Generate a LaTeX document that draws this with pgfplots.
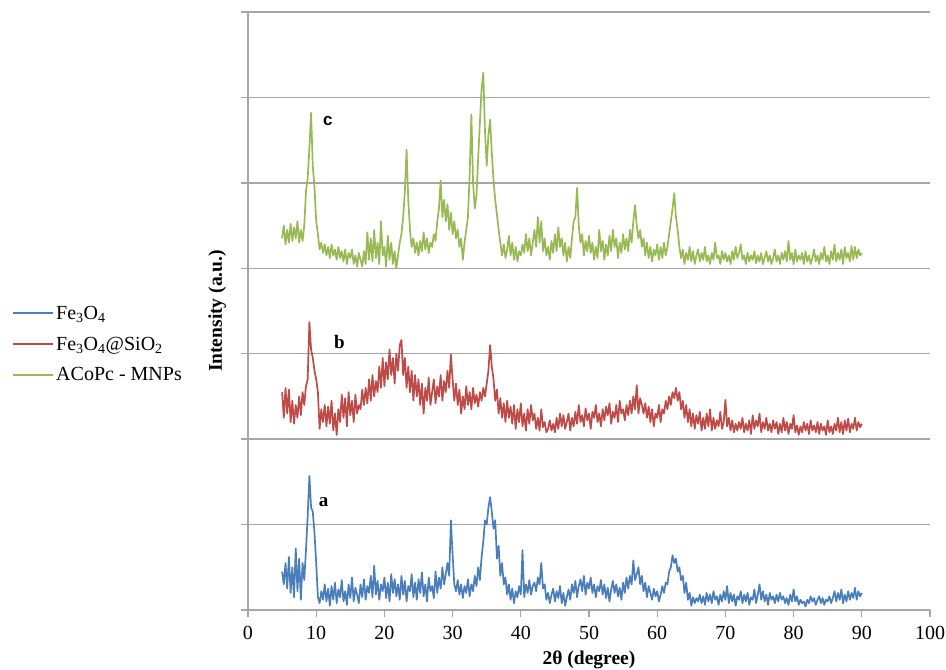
\documentclass[border=0pt]{standalone}
\usepackage{fontspec}
\setmainfont{Liberation Serif}
\newfontfamily\sansf{Liberation Sans}
\usepackage{pgfplots}
\usepackage{pgfplotstable}
\pgfplotsset{compat=1.18}
\definecolor{cblue}{HTML}{4A7EBB}
\definecolor{cred}{HTML}{BE4B48}
\definecolor{cgreen}{HTML}{98B954}
\definecolor{cgrid}{HTML}{A6A6A6}

% columns: 2theta, a (Fe3O4), b (Fe3O4@SiO2), c (ACoPc-MNPs) -- curves offset by 2 units
\pgfplotstableread{
x a b c
5.00 0.45 2.55 4.35
5.25 0.30 2.25 4.50
5.50 0.55 2.60 4.28
5.75 0.25 2.30 4.45
6.00 0.62 2.58 4.30
6.25 0.20 2.20 4.52
6.50 0.50 2.45 4.32
6.75 0.15 2.18 4.48
7.00 0.72 2.40 4.35
7.25 0.22 2.25 4.55
7.50 0.60 2.50 4.30
7.75 0.12 2.28 4.45
8.00 0.55 2.55 4.32
8.25 0.35 2.40 4.50
8.50 0.70 2.62 4.90
8.75 1.10 2.70 5.05
9.00 1.57 3.37 5.40
9.25 1.20 3.05 5.82
9.50 1.15 2.95 5.20
9.75 0.90 2.80 4.95
10.00 0.55 2.70 4.55
10.25 0.15 2.55 4.40
10.50 0.08 2.12 4.22
10.75 0.22 2.35 4.30
11.00 0.12 2.20 4.18
11.25 0.30 2.40 4.28
11.50 0.10 2.15 4.15
11.75 0.25 2.38 4.25
12.00 0.05 2.18 4.12
12.25 0.28 2.45 4.28
12.50 0.12 2.10 4.15
12.75 0.32 2.30 4.22
13.00 0.08 2.05 4.10
13.25 0.24 2.35 4.25
13.50 0.15 2.20 4.12
13.75 0.35 2.52 4.20
14.00 0.10 2.25 4.08
14.25 0.22 2.48 4.22
14.50 0.06 2.15 4.05
14.75 0.30 2.55 4.18
15.00 0.14 2.28 4.12
15.25 0.38 2.45 4.22
15.50 0.10 2.20 4.05
15.75 0.26 2.52 4.15
16.00 0.18 2.30 4.02
16.25 0.08 2.40 4.18
16.50 0.30 2.35 4.10
16.75 0.15 2.58 4.02
17.00 0.36 2.40 4.20
17.25 0.12 2.60 4.05
17.50 0.28 2.42 4.42
17.75 0.20 2.70 4.10
18.00 0.40 2.45 4.35
18.25 0.15 2.75 4.08
18.50 0.52 2.50 4.45
18.75 0.18 2.68 4.12
19.00 0.34 2.55 4.30
19.25 0.12 2.85 4.05
19.50 0.30 2.60 4.55
19.75 0.22 2.95 4.15
20.00 0.38 2.62 4.25
20.25 0.14 2.90 4.02
20.50 0.32 2.70 4.38
20.75 0.10 3.05 4.10
21.00 0.42 2.75 4.30
21.25 0.20 2.95 4.05
21.50 0.36 2.65 4.20
21.75 0.16 3.00 4.00
22.00 0.30 2.80 4.15
22.25 0.12 3.10 4.30
22.50 0.40 3.16 4.40
22.75 0.18 2.75 4.60
23.00 0.34 2.95 4.90
23.25 0.10 2.60 5.39
23.50 0.28 2.85 4.80
23.75 0.22 2.55 4.45
24.00 0.42 2.80 4.25
24.25 0.15 2.45 4.35
24.50 0.32 2.75 4.18
24.75 0.12 2.50 4.30
25.00 0.36 2.70 4.15
25.25 0.20 2.40 4.32
25.50 0.44 2.65 4.20
25.75 0.16 2.30 4.42
26.00 0.30 2.60 4.22
26.25 0.10 2.45 4.35
26.50 0.38 2.72 4.18
26.75 0.22 2.40 4.30
27.00 0.28 2.55 4.25
27.25 0.14 2.70 4.40
27.50 0.45 2.42 4.32
27.75 0.20 2.62 4.55
28.00 0.38 2.50 4.70
28.25 0.25 2.75 5.03
28.50 0.50 2.45 4.60
28.75 0.30 2.68 4.80
29.00 0.42 2.55 4.55
29.25 0.55 2.80 4.75
29.50 0.40 2.60 4.45
29.75 1.05 2.99 4.65
30.00 0.65 2.70 4.40
30.25 0.30 2.45 4.55
30.50 0.22 2.65 4.35
30.75 0.35 2.40 4.45
31.00 0.18 2.58 4.25
31.25 0.30 2.30 4.35
31.50 0.14 2.50 4.10
31.75 0.28 2.35 4.30
32.00 0.20 2.62 4.45
32.25 0.36 2.40 4.60
32.50 0.16 2.55 5.10
32.75 0.30 2.35 5.80
33.00 0.22 2.60 5.00
33.25 0.40 2.42 4.70
33.50 0.28 2.52 4.85
33.75 0.50 2.38 5.30
34.00 0.35 2.55 5.70
34.25 0.62 2.45 6.10
34.50 0.80 2.60 6.29
34.75 1.05 2.50 5.60
35.00 1.00 2.65 5.20
35.25 1.20 2.80 5.56
35.50 1.32 3.10 5.74
35.75 1.15 2.85 5.35
36.00 0.95 2.70 5.03
36.25 1.05 2.45 4.80
36.50 0.60 2.58 4.63
36.75 0.75 2.30 4.45
37.00 0.40 2.48 4.30
37.25 0.55 2.25 4.15
37.50 0.30 2.42 4.28
37.75 0.38 2.20 4.12
38.00 0.18 2.45 4.22
38.25 0.30 2.25 4.38
38.50 0.12 2.38 4.15
38.75 0.25 2.18 4.30
39.00 0.08 2.40 4.10
39.25 0.22 2.12 4.25
39.50 0.15 2.35 4.08
39.75 0.28 2.20 4.20
40.00 0.18 2.42 4.15
40.25 0.70 2.15 4.28
40.50 0.15 2.30 4.18
40.75 0.30 2.10 4.40
41.00 0.20 2.35 4.20
41.25 0.35 2.18 4.35
41.50 0.18 2.40 4.15
41.75 0.28 2.22 4.30
42.00 0.32 2.30 4.45
42.25 0.22 2.12 4.25
42.50 0.38 2.25 4.60
42.75 0.30 2.10 4.30
43.00 0.55 2.35 4.55
43.25 0.25 2.14 4.20
43.50 0.30 2.20 4.35
43.75 0.12 2.08 4.15
44.00 0.20 2.12 4.25
44.25 0.08 2.22 4.10
44.50 0.18 2.10 4.32
44.75 0.25 2.18 4.18
45.00 0.10 2.08 4.40
45.25 0.22 2.25 4.20
45.50 0.14 2.12 4.48
45.75 0.28 2.30 4.25
46.00 0.08 2.15 4.35
46.25 0.20 2.28 4.15
46.50 0.05 2.12 4.30
46.75 0.15 2.20 4.08
47.00 0.24 2.30 4.25
47.25 0.12 2.10 4.12
47.50 0.30 2.25 4.35
47.75 0.20 2.15 4.55
48.00 0.34 2.32 4.60
48.25 0.15 2.18 4.94
48.50 0.28 2.40 4.50
48.75 0.36 2.20 4.30
49.00 0.22 2.28 4.40
49.25 0.40 2.15 4.15
49.50 0.18 2.36 4.32
49.75 0.32 2.22 4.20
50.00 0.25 2.30 4.38
50.25 0.38 2.12 4.18
50.50 0.20 2.32 4.30
50.75 0.30 2.25 4.10
51.00 0.15 2.40 4.25
51.25 0.28 2.20 4.12
51.50 0.22 2.30 4.45
51.75 0.35 2.15 4.20
52.00 0.18 2.35 4.32
52.25 0.30 2.22 4.10
52.50 0.14 2.38 4.28
52.75 0.26 2.28 4.15
53.00 0.10 2.42 4.38
53.25 0.24 2.18 4.20
53.50 0.34 2.32 4.45
53.75 0.20 2.25 4.25
54.00 0.30 2.40 4.35
54.25 0.16 2.20 4.12
54.50 0.26 2.45 4.30
54.75 0.12 2.30 4.18
55.00 0.32 2.35 4.40
55.25 0.20 2.22 4.22
55.50 0.38 2.40 4.35
55.75 0.25 2.28 4.20
56.00 0.40 2.45 4.45
56.25 0.30 2.30 4.30
56.50 0.58 2.50 4.55
56.75 0.35 2.35 4.74
57.00 0.42 2.63 4.50
57.25 0.50 2.30 4.35
57.50 0.30 2.48 4.45
57.75 0.40 2.40 4.25
58.00 0.22 2.30 4.35
58.25 0.32 2.42 4.15
58.50 0.15 2.25 4.30
58.75 0.28 2.38 4.12
59.00 0.20 2.20 4.25
59.25 0.12 2.35 4.08
59.50 0.25 2.15 4.22
59.75 0.16 2.30 4.15
60.00 0.22 2.25 4.28
60.25 0.10 2.40 4.10
60.50 0.18 2.20 4.25
60.75 0.28 2.35 4.12
61.00 0.20 2.30 4.30
61.25 0.32 2.45 4.15
61.50 0.30 2.35 4.25
61.75 0.45 2.50 4.40
62.00 0.50 2.40 4.55
62.25 0.64 2.55 4.70
62.50 0.55 2.48 4.88
62.75 0.60 2.60 4.60
63.00 0.45 2.45 4.45
63.25 0.50 2.55 4.25
63.50 0.35 2.35 4.12
63.75 0.40 2.45 4.22
64.00 0.20 2.25 4.05
64.25 0.32 2.40 4.18
64.50 0.12 2.20 4.10
64.75 0.20 2.35 4.25
65.00 0.05 2.15 4.08
65.25 0.15 2.30 4.20
65.50 0.08 2.12 4.05
65.75 0.14 2.28 4.15
66.00 0.10 2.18 4.22
66.25 0.18 2.32 4.08
66.50 0.08 2.10 4.18
66.75 0.16 2.25 4.10
67.00 0.06 2.12 4.25
67.25 0.20 2.30 4.08
67.50 0.10 2.15 4.15
67.75 0.18 2.35 4.05
68.00 0.08 2.10 4.18
68.25 0.22 2.25 4.10
68.50 0.12 2.12 4.30
68.75 0.16 2.22 4.12
69.00 0.06 2.15 4.15
69.25 0.18 2.32 4.05
69.50 0.10 2.12 4.20
69.75 0.22 2.20 4.10
70.00 0.12 2.46 4.18
70.25 0.28 2.15 4.08
70.50 0.08 2.25 4.15
70.75 0.20 2.10 4.05
71.00 0.10 2.22 4.20
71.25 0.18 2.08 4.10
71.50 0.05 2.18 4.25
71.75 0.16 2.10 4.12
72.00 0.12 2.20 4.18
72.25 0.22 2.12 4.28
72.50 0.08 2.25 4.10
72.75 0.18 2.08 4.15
73.00 0.10 2.18 4.05
73.25 0.20 2.10 4.18
73.50 0.06 2.22 4.08
73.75 0.15 2.06 4.15
74.00 0.12 2.28 4.10
74.25 0.24 2.12 4.20
74.50 0.08 2.22 4.06
74.75 0.18 2.15 4.15
75.00 0.30 2.30 4.08
75.25 0.12 2.08 4.18
75.50 0.22 2.20 4.05
75.75 0.10 2.12 4.12
76.00 0.18 2.25 4.20
76.25 0.06 2.10 4.08
76.50 0.20 2.18 4.15
76.75 0.12 2.08 4.05
77.00 0.16 2.22 4.12
77.25 0.08 2.12 4.22
77.50 0.18 2.20 4.08
77.75 0.10 2.06 4.15
78.00 0.20 2.18 4.05
78.25 0.12 2.08 4.18
78.50 0.16 2.25 4.10
78.75 0.08 2.10 4.20
79.00 0.14 2.20 4.08
79.25 0.06 2.06 4.32
79.50 0.18 2.18 4.10
79.75 0.10 2.12 4.18
80.00 0.24 2.28 4.05
80.25 0.10 2.08 4.22
80.50 0.16 2.16 4.08
80.75 0.06 2.05 4.15
81.00 0.12 2.15 4.10
81.25 0.08 2.08 4.18
81.50 0.10 2.20 4.05
81.75 0.04 2.10 4.20
82.00 0.12 2.18 4.08
82.25 0.08 2.06 4.15
82.50 0.16 2.22 4.05
82.75 0.10 2.10 4.12
83.00 0.14 2.16 4.22
83.25 0.06 2.08 4.08
83.50 0.12 2.20 4.15
83.75 0.16 2.06 4.05
84.00 0.08 2.18 4.18
84.25 0.14 2.10 4.10
84.50 0.06 2.15 4.25
84.75 0.12 2.05 4.08
85.00 0.10 2.22 4.15
85.25 0.16 2.08 4.05
85.50 0.08 2.15 4.20
85.75 0.14 2.06 4.10
86.00 0.22 2.18 4.28
86.25 0.10 2.10 4.08
86.50 0.20 2.25 4.18
86.75 0.12 2.08 4.10
87.00 0.24 2.20 4.22
87.25 0.08 2.06 4.05
87.50 0.18 2.22 4.25
87.75 0.10 2.10 4.12
88.00 0.22 2.24 4.18
88.25 0.12 2.08 4.08
88.50 0.20 2.18 4.26
88.75 0.14 2.12 4.10
89.00 0.26 2.25 4.25
89.25 0.12 2.10 4.12
89.50 0.22 2.20 4.22
89.75 0.16 2.14 4.15
90.00 0.20 2.18 4.18
}\xrd

\begin{document}
\begin{tikzpicture}
\begin{axis}[
  scale only axis,
  width=682pt, height=598pt,
  xmin=0, xmax=100, ymin=0, ymax=7,
  xtick={0,10,...,100},
  ytick={0,1,...,7}, yticklabels={},
  axis x line*=bottom, axis y line*=left,
  axis line style={draw=cgrid, line width=1.3pt},
  ymajorgrids,
  grid style={draw=cgrid, line width=1.3pt},
  tick style={draw=cgrid, line width=1.3pt},
  tick align=outside, major tick length=7pt,
  ticklabel style={font=\fontsize{20}{23}\selectfont},
  xticklabel style={yshift=-6pt},
  /pgf/number format/assume math mode=true,
  xlabel={\textbf{2θ (degree)}},
  ylabel={\textbf{Intensity (a.u.)}},
  label style={font=\fontsize{19.5}{22}\selectfont},
  xlabel style={at={(axis description cs:0.5,-0.067)}, anchor=north, inner sep=1pt},
  ylabel style={at={(axis description cs:-0.027,0.5)}, anchor=south},
  legend style={at={(rel axis cs:-0.346,0.512)}, anchor=north west,
    draw=none, fill=none, inner sep=0pt, row sep=12pt,
    font=\fontsize{20}{23}\selectfont},
  legend cell align=left,
  every axis plot/.append style={line width=1.7pt, line join=round},
]
\addplot[cblue, legend image code/.code={\draw[cblue, line width=2pt] (0pt,0.6pt) -- (40pt,0.6pt);}]
  table[x=x, y=a] {\xrd};
\addlegendentry{Fe\textsubscript{3}O\textsubscript{4}}
\addplot[cred, legend image code/.code={\draw[cred, line width=2pt] (0pt,0pt) -- (40pt,0pt);}]
  table[x=x, y=b] {\xrd};
\addlegendentry{Fe\textsubscript{3}O\textsubscript{4}@SiO\textsubscript{2}}
\addplot[cgreen, legend image code/.code={\draw[cgreen, line width=2pt] (0pt,0pt) -- (40pt,0pt);}]
  table[x=x, y=c] {\xrd};
\addlegendentry{ACoPc - MNPs}

\node[font=\fontsize{19}{21}\selectfont\bfseries] at (axis cs:11.1,1.26) {a};
\node[font=\fontsize{19}{21}\selectfont\bfseries] at (axis cs:13.4,3.14) {b};
\node[font=\fontsize{17}{20}\selectfont\sansf\bfseries] at (axis cs:11.7,5.72) {c};
\end{axis}
\path (current axis.south west) ++(-248pt,-60pt) coordinate (bl);
\path (current axis.north east) ++(16pt,12pt) coordinate (tr);
\pgfresetboundingbox
\path[use as bounding box] (bl) rectangle (tr);
\end{tikzpicture}
\end{document}
